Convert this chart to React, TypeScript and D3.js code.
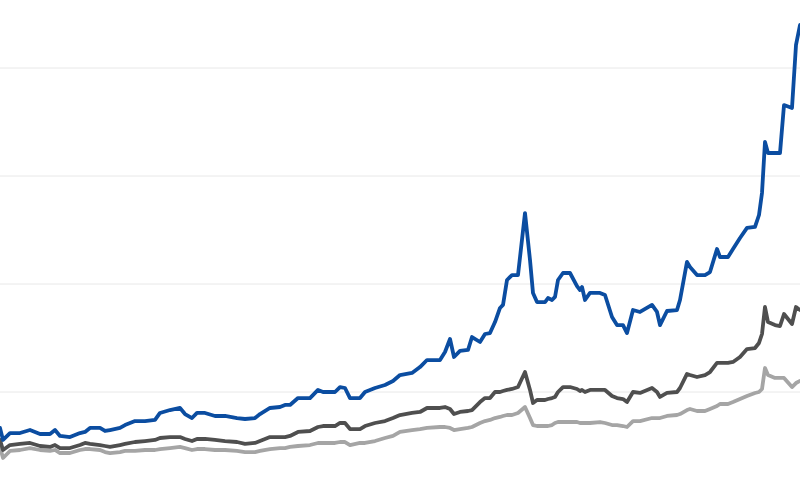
import React from 'react';
import * as d3 from 'd3';

// period in months from the start of the series
const months = [
  0, 1.5, 5, 10, 15, 20, 25, 27.5, 30, 35, 40, 42.5, 45, 50, 52.5, 55, 60, 62.5, 67.5, 72.5,
  77.5, 80, 85, 90, 92.5, 96, 98.5, 102.5, 107.5, 112.5, 118.5, 122.5, 127.5, 130, 135, 140,
  142.5, 145, 149, 155, 159, 161.5, 167.5, 170, 172.5, 175, 180, 182.5, 187.5, 192.5, 196.5,
  200, 206, 210, 213.5, 220, 222.5, 225, 227, 230, 234, 236, 240, 242.5, 245, 247.5, 250,
  251.5, 253.5, 256, 259, 262.5, 265, 266.5, 268.5, 272.5, 274, 276, 277.5, 279, 281.5, 285,
  288.5, 290, 291, 292.5, 295, 300, 302.5, 306, 308.5, 311.5, 313.5, 316.5, 320, 326, 328.5,
  330, 333.5, 338.5, 340, 343.5, 345, 348.5, 352.5, 355, 358.5, 360, 364, 366.5, 370, 373.5,
  377.5, 379.5, 381, 382.5, 384, 387.5, 390, 392, 396, 398, 400
];

const seriesA = [
  66.7, 55.6, 62.0, 62.0, 64.8, 61.1, 61.1, 64.8, 59.3, 58.3, 62.0, 63.0, 66.7, 66.7, 63.9, 64.8,
  66.7, 69.4, 73.1, 73.1, 74.1, 80.6, 83.3, 85.2, 79.6, 75.9, 80.6, 80.6, 77.8, 77.8, 75.9, 75.0,
  75.9, 79.6, 85.2, 86.1, 88.0, 88.0, 94.4, 94.4, 101.9, 100, 100, 104.6, 103.7, 94.4, 94.4, 100,
  103.7, 106.5, 110.2, 115.7, 117.6, 123.1, 129.6, 129.6, 137.0, 149.1, 132.4, 138.0, 138.9, 150.9,
  146.3, 153.7, 154.6, 164.8, 177.8, 180.6, 203.7, 208.3, 208.3, 265.7, 222.2, 191.7, 183.3, 183.3,
  187.0, 185.2, 188.0, 203.7, 210.2, 210.2, 198.1, 194.4, 197.2, 185.2, 191.7, 191.7, 189.8, 169.4,
  162.0, 162.0, 154.6, 175.9, 174.1, 180.6, 174.1, 162.0, 175.0, 175.9, 185.2, 220.4, 215.7, 208.3,
  208.3, 211.1, 232.4, 225.0, 225.0, 232.4, 242.6, 251.9, 252.8, 263.9, 284.3, 331.5, 321.3, 321.3,
  321.3, 365.7, 363.0, 421.3, 439.8
];

const seriesB = [
  55.6, 46.3, 50.9, 51.9, 52.8, 50.0, 49.1, 50.9, 48.1, 48.1, 50.9, 52.8, 51.9, 50.9, 50.0, 49.1,
  50.9, 51.9, 53.7, 54.6, 55.6, 57.4, 58.3, 58.3, 56.5, 54.6, 56.5, 56.5, 55.6, 54.6, 53.7, 51.9,
  52.8, 54.6, 58.3, 58.3, 58.3, 59.3, 63.0, 63.9, 67.6, 68.5, 68.5, 71.3, 71.3, 65.7, 65.7, 68.5,
  71.3, 73.1, 75.9, 78.7, 80.6, 81.5, 85.2, 85.2, 86.1, 84.3, 79.6, 81.5, 82.4, 83.3, 90.7, 94.4,
  94.4, 100, 100, 100.9, 101.9, 102.8, 104.6, 118.5, 101.9, 89.8, 92.6, 92.6, 93.5, 94.4, 95.4, 100,
  104.6, 104.6, 102.8, 100.9, 101.9, 100, 101.9, 101.9, 101.9, 96.3, 94.4, 93.5, 90.7, 100, 99.1,
  103.7, 100, 95.4, 99.1, 100, 103.7, 116.7, 115.7, 113.9, 115.7, 118.5, 126.9, 126.9, 126.9, 127.8,
  132.4, 139.8, 140.7, 145.4, 153.7, 178.7, 164.8, 162.0, 161.1, 172.2, 163.0, 178.7, 175.9
];

const seriesC = [
  49.1, 38.9, 45.4, 46.3, 48.1, 46.3, 45.4, 46.3, 43.5, 43.5, 46.3, 47.2, 47.2, 46.3, 44.4, 43.5,
  44.4, 45.4, 45.4, 46.3, 46.3, 47.2, 48.1, 49.1, 48.1, 46.3, 47.2, 47.2, 46.3, 46.3, 45.4, 44.4,
  44.4, 45.4, 47.2, 48.1, 48.1, 49.1, 50.0, 50.9, 52.8, 52.8, 52.8, 53.7, 53.7, 50.9, 52.8, 52.8,
  54.6, 57.4, 59.3, 63.0, 64.8, 65.7, 66.7, 67.6, 67.6, 66.7, 64.8, 65.7, 66.7, 67.6, 71.3, 73.1,
  74.1, 75.9, 76.9, 77.8, 78.7, 78.7, 80.6, 86.1, 75.9, 69.4, 68.5, 68.5, 68.5, 69.4, 71.3, 72.2,
  72.2, 72.2, 72.2, 71.3, 71.3, 71.3, 71.3, 72.2, 71.3, 69.4, 69.4, 68.5, 67.6, 73.1, 73.1, 75.9,
  75.9, 75.9, 77.8, 78.7, 79.6, 83.3, 84.3, 82.4, 82.4, 84.3, 87.0, 88.9, 88.9, 90.7, 93.5, 96.3,
  99.1, 100, 102.8, 122.2, 115.7, 113.0, 113.0, 113.0, 104.6, 108.3, 110.2
];

const gridTicks = [100, 200, 300, 400];

const width = 800;
const height = 488;

const App = () => {
  const x = d3.scaleLinear().domain([0, 400]).range([0, width]);
  const y = d3.scaleLinear().domain([0, 400]).range([500, 68]);

  const line = d3.line<number>()
    .x((d, i) => x(months[i]))
    .y(d => y(d));

  const series = [
    { key: 'c', values: seriesC, color: '#a5a5a5' },
    { key: 'b', values: seriesB, color: '#4f4f4f' },
    { key: 'a', values: seriesA, color: '#0b4da1' }
  ];

  return (
    <svg
      width={width}
      height={height}
      style={{ position: 'absolute', left: 0, top: 0, display: 'block', background: '#fff' }}
    >
      {gridTicks.map(t =>
        <line key={`grid-${t}`} x1={0} x2={width} y1={y(t)} y2={y(t)} stroke='#e8e8e8' strokeWidth={1} />
      )}
      {series.map(s =>
        <path
          key={s.key}
          d={line(s.values) || ''}
          fill='none'
          stroke={s.color}
          strokeWidth={3.8}
          strokeLinejoin='round'
          strokeLinecap='round'
        />
      )}
    </svg>
  );
};

export default App;
